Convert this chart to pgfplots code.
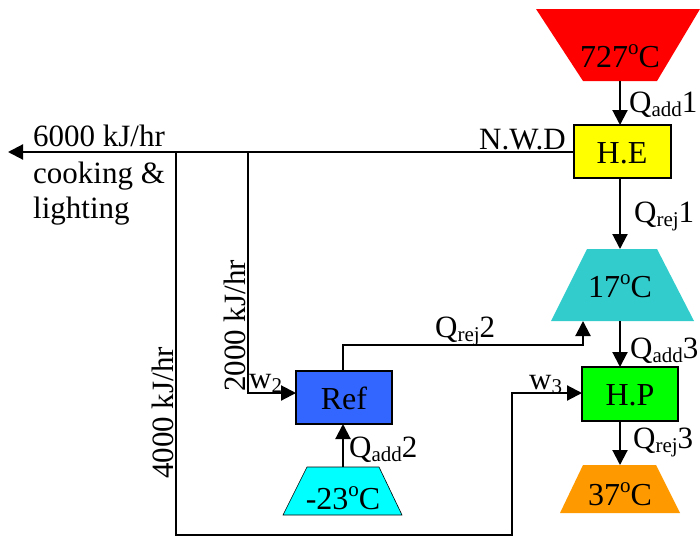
\documentclass[border=0pt]{standalone}
\usepackage{pgfplots}
\pgfplotsset{compat=1.18}
\usepackage{fontspec}
\setmainfont{Liberation Serif}
\usetikzlibrary{arrows.meta}
\definecolor{cred}{RGB}{255,0,0}
\definecolor{cyel}{RGB}{255,255,0}
\definecolor{cteal}{RGB}{51,204,204}
\definecolor{cblue}{RGB}{51,102,255}
\definecolor{ccyan}{RGB}{0,255,255}
\definecolor{cgreen}{RGB}{0,255,0}
\definecolor{corange}{RGB}{255,153,0}
\newcommand{\sub}[1]{\raisebox{-0.35ex}{\fontsize{21}{21}\selectfont #1}}
\newcommand{\dg}{\raisebox{0.9ex}{\fontsize{21}{21}\selectfont o}}
\tikzset{t/.style={font=\fontsize{31}{34}\selectfont, inner sep=0pt},
  tb/.style={font=\fontsize{32}{34}\selectfont, inner sep=0pt}}
\begin{document}
\begin{tikzpicture}
\begin{axis}[width=700pt,height=538pt,scale only axis,
  xmin=0,xmax=700,ymin=0,ymax=538,y dir=reverse,hide axis,clip=false]
% reservoirs (trapezoids)
\addplot[fill=cred,draw=none] coordinates {(536,9) (700,9) (657,81) (583,81)} --cycle;
\addplot[fill=cteal,draw=none] coordinates {(587,249) (657,249) (694,321) (551,321)} --cycle;
\addplot[fill=ccyan,draw=black,line width=0.6pt] coordinates {(307,467) (379,467) (402,515) (283,515)} --cycle;
\addplot[fill=corange,draw=none] coordinates {(583,465) (656,465) (680,513) (560,513)} --cycle;
% boxes
\addplot[fill=cyel,draw=black,line width=1.8pt] coordinates {(574,125) (671,125) (671,178) (574,178)} --cycle;
\addplot[fill=cblue,draw=black,line width=1.8pt] coordinates {(296,371) (392,371) (392,424) (296,424)} --cycle;
\addplot[fill=cgreen,draw=black,line width=1.8pt] coordinates {(582,367) (678,367) (678,421) (582,421)} --cycle;
% connections
\pgfplotsset{conn/.style={black,line width=2.1pt},
  arr/.style={conn,-{Triangle[length=15pt,width=15pt]}}}
\addplot[arr] coordinates {(620,81) (620,125)};
\addplot[arr] coordinates {(620,178) (620,249)};
\addplot[arr] coordinates {(620,321) (620,367)};
\addplot[arr] coordinates {(620,421) (620,465)};
\addplot[arr] coordinates {(574,152) (8,152)};
\addplot[arr] coordinates {(248,152) (248,393) (296,393)};
\addplot[arr] coordinates {(176,152) (176,535) (512,535) (512,393) (582,393)};
\addplot[arr] coordinates {(343,467) (343,424)};
\addplot[arr] coordinates {(343,371) (343,345) (583,345) (583,321)};
% texts
\node[tb] at (axis cs:620,56) {727\dg C};
\node[tb] at (axis cs:622,153) {H.E};
\node[tb] at (axis cs:620,286) {17\dg C};
\node[tb] at (axis cs:344,398) {Ref};
\node[tb] at (axis cs:630,395) {H.P};
\node[tb] at (axis cs:343,498) {-23\dg C};
\node[tb] at (axis cs:620,494) {37\dg C};
\node[t,anchor=base west] at (axis cs:629,112) {Q\sub{add}1};
\node[t,anchor=base west] at (axis cs:634,222) {Q\sub{rej}1};
\node[t,anchor=base west] at (axis cs:630,358) {Q\sub{add}3};
\node[t,anchor=base west] at (axis cs:633,448) {Q\sub{rej}3};
\node[t,anchor=base west] at (axis cs:349,457) {Q\sub{add}2};
\node[t,anchor=base west] at (axis cs:435,337) {Q\sub{rej}2};
\node[t,anchor=base west] at (axis cs:249,388) {w\sub{2}};
\node[t,anchor=base west] at (axis cs:529,389) {w\sub{3}};
\node[t,anchor=base east] at (axis cs:566,149) {N.W.D};
\node[t,anchor=base west] at (axis cs:33,146) {6000 kJ/hr};
\node[t,anchor=base west] at (axis cs:33,183) {cooking \&};
\node[t,anchor=base west] at (axis cs:33,218) {lighting};
\node[t,rotate=90] at (axis cs:235,326) {2000 kJ/hr};
\node[t,rotate=90] at (axis cs:163,413) {4000 kJ/hr};
\end{axis}
\pgfresetboundingbox
\useasboundingbox (0,0) rectangle (700pt,538pt);
\end{tikzpicture}
\end{document}
